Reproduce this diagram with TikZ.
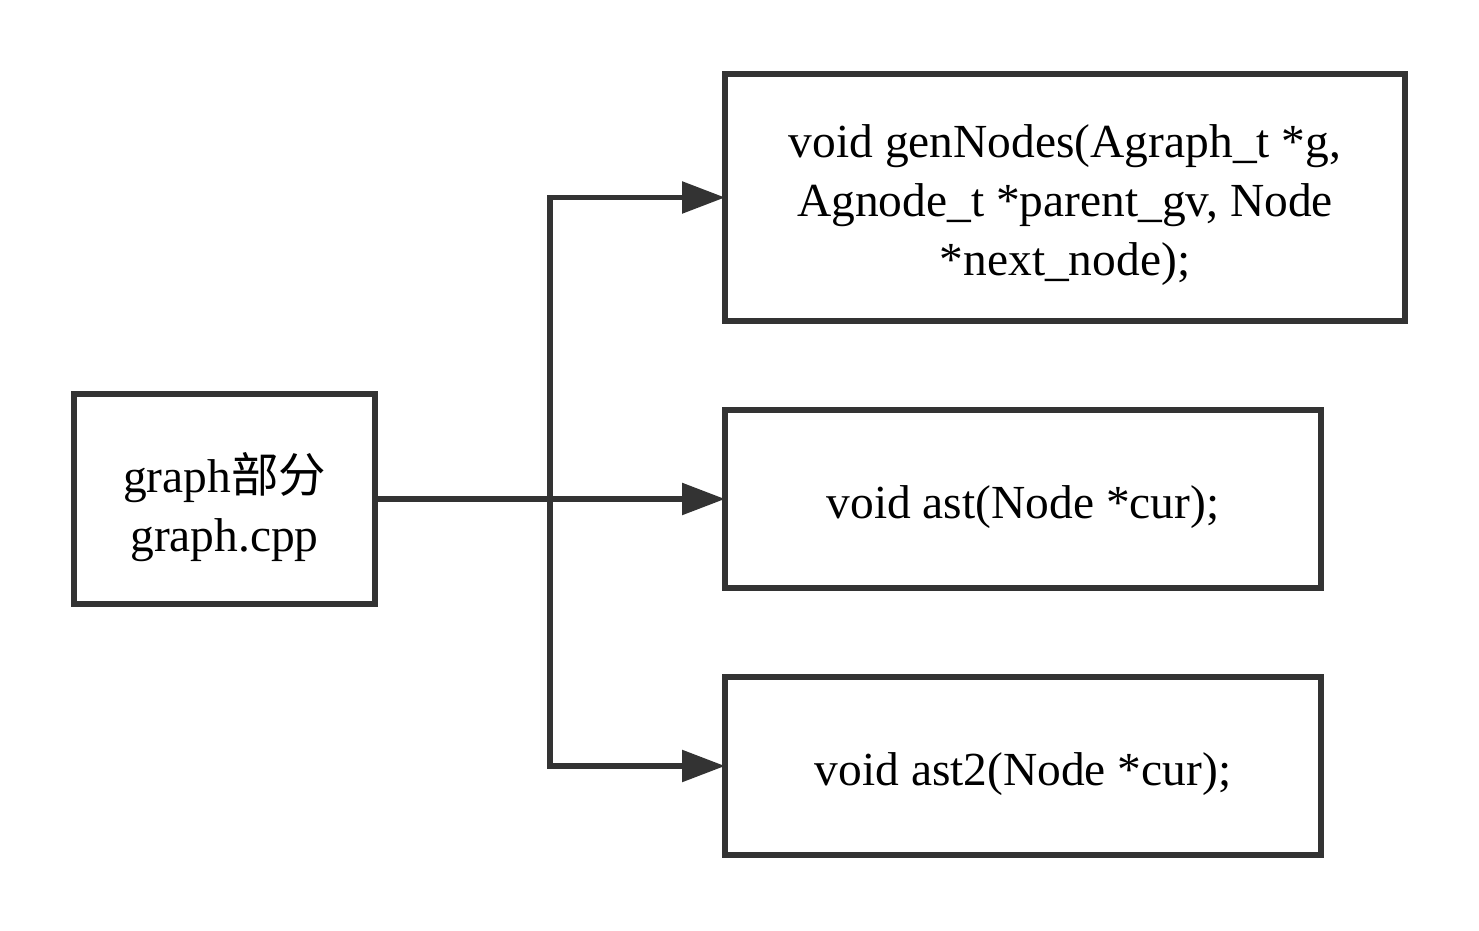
\documentclass[tikz,border=0pt]{standalone}
\usepackage{fontspec}
\setmainfont{Liberation Serif}
\newfontfamily\cjk{Noto Sans CJK SC}
\usetikzlibrary{arrows.meta}
\usetikzlibrary{positioning}
\definecolor{ink}{HTML}{333333}
\tikzset{>=latex}
\tikzstyle{box} = [rectangle, draw=ink, line width=1.6pt, inner sep=0pt, outer sep=0pt]
\tikzstyle{txt} = [align=center, yshift=-0.08cm, font=\fontsize{13.5}{16.8}\selectfont]
\tikzstyle{conn} = [-{Triangle[length=4.3mm, width=3.1mm]}, draw=ink, line width=1.6pt]

\begin{document}
\begin{tikzpicture}
\useasboundingbox (0, 0) rectangle (14.79, 9.30);
\node [box, minimum width=3.01cm, minimum height=2.10cm, label={[txt]center:graph{\cjk 部分}\\graph.cpp}] (src) at (2.245, 4.31) {};
\node [box, minimum width=6.80cm, minimum height=2.47cm, label={[txt]center:void genNodes(Agraph\_t *g,\\Agnode\_t *parent\_gv, Node\\*next\_node);}] (gen) at (10.65, 7.325) {};
\node [box, minimum width=5.96cm, minimum height=1.78cm, label={[txt]center:void ast(Node *cur);}] (ast) at (10.23, 4.31) {};
\node [box, minimum width=5.96cm, minimum height=1.78cm, label={[txt]center:void ast2(Node *cur);}] (asttwo) at (10.23, 1.64) {};
\coordinate (split) at (5.50, 4.31);
\draw [conn] (src.east) to (ast.west);
\draw [conn] (split) |- (gen.west);
\draw [conn] (split) |- (asttwo.west);
\end{tikzpicture}
\end{document}
